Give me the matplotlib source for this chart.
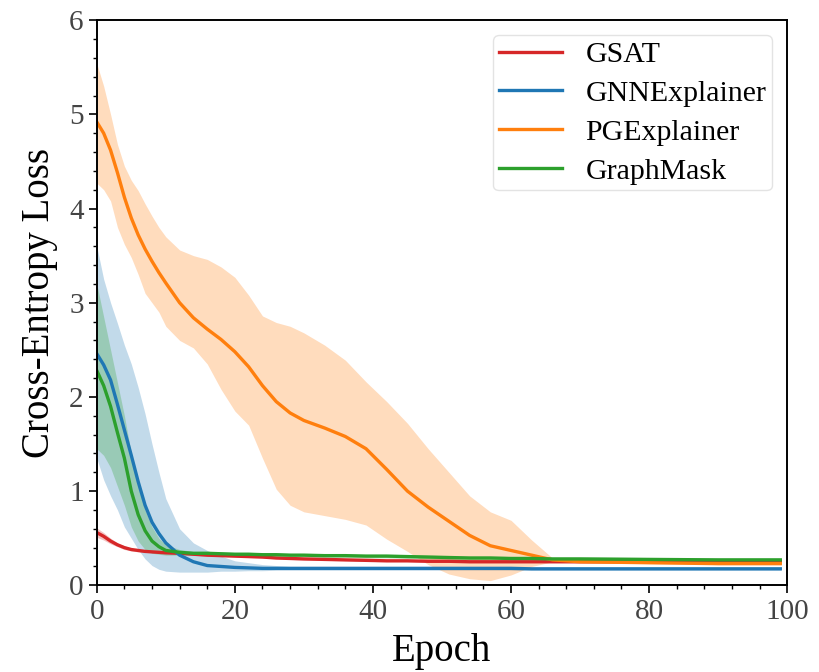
import numpy as np
import matplotlib
matplotlib.use('Agg')
import matplotlib.pyplot as plt
from matplotlib.ticker import MultipleLocator

epochs = [0, 1, 2, 3, 4, 5, 6, 7, 8, 9, 10, 12, 14, 16, 18, 20, 22, 24, 26, 28,
          30, 33, 36, 39, 42, 45, 48, 51, 54, 57, 60, 63, 66, 70, 80, 90, 99]

# GSAT (red)
gsat_mean = [0.56, 0.52, 0.47, 0.43, 0.40, 0.38, 0.37, 0.36, 0.355, 0.35, 0.345, 0.34, 0.33, 0.32, 0.315, 0.31, 0.305, 0.30, 0.29, 0.285,
             0.28, 0.275, 0.27, 0.265, 0.26, 0.26, 0.255, 0.255, 0.25, 0.25, 0.25, 0.25, 0.25, 0.25, 0.25, 0.25, 0.25]
gsat_low = [0.51, 0.48, 0.44, 0.41, 0.38, 0.365, 0.355, 0.35, 0.345, 0.34, 0.335, 0.33, 0.32, 0.31, 0.305, 0.30, 0.295, 0.29, 0.28, 0.275,
            0.27, 0.265, 0.26, 0.255, 0.25, 0.25, 0.245, 0.245, 0.24, 0.24, 0.24, 0.24, 0.24, 0.24, 0.24, 0.24, 0.24]
gsat_high = [0.61, 0.56, 0.50, 0.45, 0.42, 0.395, 0.385, 0.37, 0.365, 0.36, 0.355, 0.35, 0.34, 0.33, 0.325, 0.32, 0.315, 0.31, 0.30, 0.295,
             0.29, 0.285, 0.28, 0.275, 0.27, 0.27, 0.265, 0.265, 0.26, 0.26, 0.26, 0.26, 0.26, 0.26, 0.26, 0.26, 0.26]

# GNNExplainer (blue)
gnn_mean = [2.46, 2.34, 2.18, 1.92, 1.65, 1.38, 1.10, 0.85, 0.67, 0.55, 0.45, 0.32, 0.25, 0.21, 0.20, 0.19, 0.185, 0.18, 0.18, 0.18,
            0.18, 0.18, 0.18, 0.18, 0.18, 0.18, 0.18, 0.18, 0.18, 0.18, 0.18, 0.175, 0.175, 0.175, 0.175, 0.175, 0.175]
gnn_low = [1.35, 1.12, 0.95, 0.80, 0.62, 0.50, 0.38, 0.28, 0.21, 0.17, 0.15, 0.14, 0.14, 0.14, 0.15, 0.15, 0.155, 0.155, 0.16, 0.16,
           0.16, 0.16, 0.16, 0.16, 0.16, 0.16, 0.16, 0.16, 0.16, 0.16, 0.16, 0.16, 0.16, 0.16, 0.16, 0.16, 0.16]
gnn_high = [3.60, 3.25, 3.00, 2.78, 2.55, 2.35, 2.10, 1.82, 1.50, 1.20, 0.92, 0.60, 0.45, 0.37, 0.31, 0.26, 0.24, 0.22, 0.21, 0.20,
            0.20, 0.20, 0.20, 0.20, 0.20, 0.20, 0.20, 0.20, 0.20, 0.20, 0.20, 0.19, 0.19, 0.19, 0.19, 0.19, 0.19]

# PGExplainer (orange)
pge_mean = [4.92, 4.80, 4.62, 4.38, 4.12, 3.90, 3.72, 3.57, 3.44, 3.32, 3.21, 3.00, 2.84, 2.72, 2.61, 2.48, 2.32, 2.12, 1.95, 1.83,
            1.75, 1.67, 1.58, 1.45, 1.23, 1.00, 0.83, 0.68, 0.53, 0.42, 0.37, 0.32, 0.27, 0.25, 0.24, 0.23, 0.23]
pge_low = [4.27, 4.20, 4.08, 3.80, 3.62, 3.48, 3.30, 3.10, 3.00, 2.90, 2.75, 2.60, 2.52, 2.35, 2.08, 1.85, 1.70, 1.35, 1.02, 0.85,
           0.78, 0.74, 0.70, 0.64, 0.49, 0.36, 0.22, 0.12, 0.07, 0.05, 0.11, 0.20, 0.25, 0.24, 0.23, 0.22, 0.22]
pge_high = [5.54, 5.30, 5.00, 4.68, 4.45, 4.30, 4.19, 4.05, 3.92, 3.80, 3.70, 3.56, 3.50, 3.46, 3.38, 3.27, 3.08, 2.86, 2.79, 2.75,
            2.68, 2.55, 2.39, 2.16, 1.95, 1.72, 1.45, 1.20, 0.95, 0.78, 0.69, 0.48, 0.29, 0.26, 0.25, 0.24, 0.24]

# GraphMask (green)
gm_mean = [2.28, 2.12, 1.90, 1.62, 1.35, 1.00, 0.75, 0.58, 0.47, 0.41, 0.37, 0.35, 0.34, 0.34, 0.335, 0.33, 0.33, 0.325, 0.325, 0.32,
           0.32, 0.315, 0.315, 0.31, 0.31, 0.305, 0.30, 0.295, 0.29, 0.29, 0.285, 0.285, 0.28, 0.28, 0.275, 0.27, 0.27]
gm_low = [1.45, 1.38, 1.25, 1.05, 0.85, 0.62, 0.47, 0.38, 0.34, 0.33, 0.32, 0.32, 0.32, 0.32, 0.315, 0.31, 0.31, 0.305, 0.305, 0.30,
          0.30, 0.295, 0.295, 0.29, 0.29, 0.285, 0.28, 0.275, 0.27, 0.27, 0.265, 0.265, 0.26, 0.26, 0.255, 0.25, 0.25]
gm_high = [3.20, 2.85, 2.50, 2.15, 1.80, 1.40, 1.05, 0.80, 0.62, 0.50, 0.43, 0.38, 0.36, 0.36, 0.355, 0.35, 0.35, 0.345, 0.345, 0.34,
           0.34, 0.335, 0.335, 0.33, 0.33, 0.325, 0.32, 0.315, 0.31, 0.31, 0.305, 0.305, 0.30, 0.30, 0.295, 0.29, 0.29]

plt.rcParams['font.family'] = ['Liberation Serif', 'DejaVu Serif']

fig = plt.figure(figsize=(8.2, 6.72), dpi=100)
ax = fig.add_axes([0.118, 0.129, 0.842, 0.841])

series = [
    ('GSAT', gsat_mean, gsat_low, gsat_high, '#d62728'),
    ('GNNExplainer', gnn_mean, gnn_low, gnn_high, '#1f77b4'),
    ('PGExplainer', pge_mean, pge_low, pge_high, '#ff7f0e'),
    ('GraphMask', gm_mean, gm_low, gm_high, '#2ca02c'),
]

for name, mean, low, high, color in series:
    ax.fill_between(epochs, low, high, color=color, alpha=0.27, linewidth=0)
    ax.plot(epochs, mean, color=color, lw=2.4, label=name)

ax.set_xlim(0, 100)
ax.set_ylim(0, 6)
ax.xaxis.set_major_locator(MultipleLocator(20))
ax.xaxis.set_minor_locator(MultipleLocator(4))
ax.yaxis.set_major_locator(MultipleLocator(1))
ax.yaxis.set_minor_locator(MultipleLocator(0.2))
ax.tick_params(which='major', length=6, width=1.2, labelsize=21, labelcolor='#444444')
ax.tick_params(which='minor', length=3, width=1.0)
for sp in ax.spines.values():
    sp.set_linewidth(1.4)

ax.set_xlabel('Epoch', fontsize=28, labelpad=6)
ax.set_ylabel('Cross-Entropy Loss', fontsize=28, labelpad=8)

ax.legend(loc='upper right', fontsize=21.5, frameon=True, fancybox=True,
          edgecolor='#dddddd', handlelength=2.1, borderpad=0.2, labelspacing=0.4,
          handletextpad=0.8, bbox_to_anchor=(1.0, 1.0))

fig.savefig('out.png', dpi=100)
